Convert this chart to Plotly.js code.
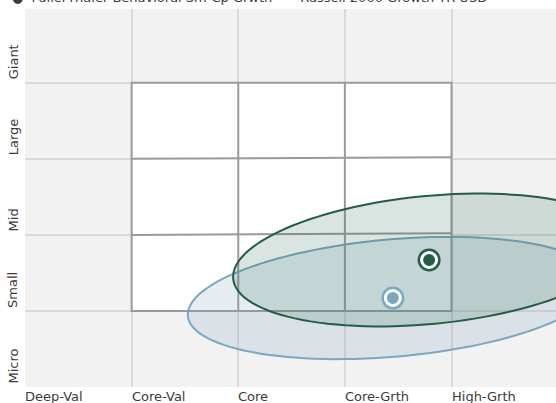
<!DOCTYPE html>
<html>
<head>
<meta charset="utf-8">
<script src="https://cdn.plot.ly/plotly-3.0.1.min.js"></script>
<style>html,body{margin:0;padding:0;background:#fff;}#chart{width:556px;height:403px;}</style>
</head>
<body>
<div id="chart"></div>
<script>
// ---- data ----
const styleLabels = ["Deep-Val", "Core-Val", "Core", "Core-Grth", "High-Grth"];
const sizeLabels = ["Micro", "Small", "Mid", "Large", "Giant"];
const seriesNames = ["FullerThaler Behavioral Sm-Cp Grwth", "Russell 2000 Growth TR USD"];
const centroidX = [3.79, 3.45];   // style score
const centroidY = [1.67, 1.17];   // size score
// ownership zone ellipses (semi-axes in style units / angle in degrees on screen)
const zoneMajor = [1.846, 1.93];
const zoneMinor = [0.60, 0.55];
const zoneAngle = [5.5, 5.0];
// style box bounds
const boxX = [1, 4];
const boxY = [1, 4];

const darkGreen = "#255c46";
const blue = "#7ba7c0";
const lineCol = [darkGreen, blue];
const fillCol = ["rgba(37,92,70,0.17)", "rgba(123,167,192,0.20)"];

// screen aspect: px per unit
const PX_X = 106.6, PX_Y = 76;

function ellipsePath(i) {
  const th = zoneAngle[i] * Math.PI / 180;
  const a = zoneMajor[i] * PX_X, b = zoneMinor[i] * PX_X;
  let d = "";
  const N = 120;
  for (let k = 0; k <= N; k++) {
    const t = 2 * Math.PI * k / N;
    const dx = a * Math.cos(th) * Math.cos(t) - b * Math.sin(th) * Math.sin(t);
    const dy = a * Math.sin(th) * Math.cos(t) + b * Math.cos(th) * Math.sin(t);
    const x = centroidX[i] + dx / PX_X;
    const y = centroidY[i] + dy / PX_Y;
    d += (k === 0 ? "M" : "L") + x.toFixed(4) + "," + y.toFixed(4);
  }
  return d + "Z";
}

const boxLine = {color: "#9a9a9a", width: 2};
const shapes = [];
shapes.push({type: "rect", xref: "x", yref: "y", x0: boxX[0], x1: boxX[1], y0: boxY[0], y1: boxY[1],
  fillcolor: "#ffffff", line: boxLine, layer: "between"});
for (let v = boxX[0] + 1; v < boxX[1]; v++) {
  shapes.push({type: "line", xref: "x", yref: "y", x0: v, x1: v, y0: boxY[0], y1: boxY[1], line: boxLine, layer: "between"});
}
for (let v = boxY[0] + 1; v < boxY[1]; v++) {
  shapes.push({type: "line", xref: "x", yref: "y", x0: boxX[0], x1: boxX[1], y0: v, y1: v + 0.02, line: boxLine, layer: "between"});
}
// ellipses: blue first (under), then green
[1, 0].forEach(i => {
  shapes.push({type: "path", xref: "x", yref: "y", path: ellipsePath(i),
    fillcolor: fillCol[i], line: {color: lineCol[i], width: 2}, layer: "between"});
});

const traces = [];
[1, 0].forEach(i => {
  traces.push({type: "scatter", mode: "markers", x: [centroidX[i]], y: [centroidY[i]],
    marker: {size: 23, color: lineCol[i]}, hoverinfo: "skip", showlegend: false, cliponaxis: false});
  traces.push({type: "scatter", mode: "markers", x: [centroidX[i]], y: [centroidY[i]], name: seriesNames[i],
    marker: {size: 15, color: lineCol[i], line: {color: "#ffffff", width: 3}}, showlegend: false, cliponaxis: false});
});

const font = {family: "DejaVu Sans, sans-serif", size: 13, color: "#3a3a3a"};
const annotations = [];
styleLabels.forEach((s, i) => {
  annotations.push({xref: "x", yref: "paper", x: i, y: 0, yshift: 0, text: s, showarrow: false,
    xanchor: "left", yanchor: "top", font: font, xshift: -2});
});
sizeLabels.forEach((s, i) => {
  annotations.push({xref: "paper", yref: "y", x: 0, xshift: -12, y: i, text: s, showarrow: false,
    textangle: -90, xanchor: "center", yanchor: "bottom", font: font, yshift: 1});
});
// legend (partially cut off at top)
annotations.push({xref: "paper", yref: "paper", x: 0, y: 1, yshift: 2, xshift: -15, text: "\u25CF  " + seriesNames[0],
  showarrow: false, xanchor: "left", yanchor: "bottom", font: font});
annotations.push({xref: "paper", yref: "paper", x: 0, y: 1, yshift: 2, xshift: 252, text: "\u2014  " + seriesNames[1],
  showarrow: false, xanchor: "left", yanchor: "bottom", font: font});

const layout = {
  width: 556, height: 403,
  margin: {l: 25, r: 0, t: 9, b: 16},
  paper_bgcolor: "#ffffff",
  plot_bgcolor: "#f2f2f2",
  showlegend: false,
  xaxis: {range: [0, 4.98], tickvals: [0, 1, 2, 3, 4, 5], showticklabels: false, showgrid: true,
    gridcolor: "#d9d9d9", gridwidth: 2, zeroline: false, showline: false, fixedrange: true},
  yaxis: {range: [0, 4.97], tickvals: [0, 1, 2, 3, 4, 5], showticklabels: false, showgrid: true,
    gridcolor: "#d9d9d9", gridwidth: 2, zeroline: false, showline: false, fixedrange: true},
  shapes: shapes,
  annotations: annotations
};

Plotly.newPlot("chart", traces, layout, {displayModeBar: false, staticPlot: true});
</script>
</body>
</html>
